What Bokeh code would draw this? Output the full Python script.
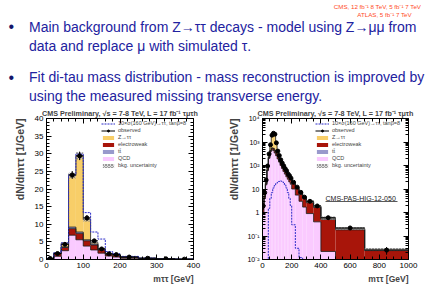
import numpy as np
from bokeh.plotting import figure
from bokeh.models import (Label, Legend, LegendItem, FixedTicker, BoxAnnotation,
                          LinearAxis, LogAxis, SingleIntervalTicker, Title)
from bokeh.layouts import column, row
from bokeh.embed import file_html
from bokeh.resources import INLINE

FONT = "Liberation Sans"

# ---------------- slide text ----------------
bullet_1 = ["Main background from Z→ττ decays - model using Z→μμ from",
            "data and replace μ with simulated τ."]
bullet_2 = ["Fit di-tau mass distribution - mass reconstruction is improved by",
            "using the measured missing transverse energy."]
lumi_note = ["CMS, 12 fb⁻¹ 8 TeV, 5 fb⁻¹ 7 TeV", "ATLAS, 5 fb⁻¹ 7 TeV"]
plot_title = "CMS Preliminary, √s = 7-8 TeV, L = 17 fb⁻¹ τμτh"
y_title = "dN/dmττ [1/GeV]"
x_title = "mττ [GeV]"
pas_note = "CMS-PAS-HIG-12-050"
legend_labels = ["10×σ(160 GeV)→ττ, tanβ=8", "observed", "Z→ττ", "electroweak",
                 "tt̄", "QCD", "bkg. uncertainty"]

# ---------------- left plot (linear) ----------------
edges_l = [0, 20, 40, 60, 80, 100, 120, 140, 160, 180, 200, 250, 300, 350, 400]
qcd_l = [0.15, 0.9, 2.5, 6.9, 5.6, 3.8, 2.7, 1.8, 1.0, 0.7, 0.35, 0.15, 0.06, 0.03]
ew_l = [0.1, 0.7, 0.9, 1.85, 1.8, 1.5, 1.4, 0.9, 0.5, 0.45, 0.3, 0.15, 0.08, 0.04]
tt_l = [0.02, 0.1, 0.2, 0.45, 0.4, 0.3, 0.3, 0.2, 0.15, 0.15, 0.1, 0.05, 0.02, 0.01]
ztt_l = [0.05, 0.2, 1.0, 14.6, 21.6, 5.7, 0.4, 0.2, 0.1, 0.05, 0.03, 0.02, 0.01, 0.01]
obs_l = [0.3, 1.7, 4.3, 24.0, 29.4, 11.8, 5.3, 3.0, 1.6, 1.4, 0.7, 0.35, 0.2, 0.1]
obs_err_l = [0.15, 0.3, 0.5, 1.1, 1.2, 0.8, 0.5, 0.4, 0.3, 0.25, 0.1, 0.08, 0.06, 0.04]
sig_l = [0, 0, 0.1, 0.2, 0.5, 2.0, 3.0, 2.7, 0.5, 0.3, 0.1, 0.02, 0, 0]
unc_l = [0.05, 0.15, 0.3, 0.8, 1.0, 0.5, 0.3, 0.2, 0.12, 0.1, 0.06, 0.03, 0.02, 0.01]

# ---------------- right plot (log) ----------------
edges_r = [0, 10, 20, 30, 40, 50, 60, 70, 80, 90, 100, 110, 120, 130, 140, 150, 160,
           170, 180, 190, 200, 225, 250, 275, 300, 350, 400, 500, 700, 1000]
qcd_r = [1.0, 4, 15, 60, 200, 380, 470, 430, 340, 260, 190, 140, 100, 75, 56, 43, 33,
         26, 20, 16, 10, 5.5, 3.0, 1.7, 0.9, 0.4, 0.022, 0.003, 0.001]
ew_r = [0.58, 0.9, 1.7, 4.2, 18, 46, 84, 102, 102, 93, 74, 55, 36, 29.5, 24, 20.5, 17,
        13, 11, 9, 6.4, 4.9, 3.0, 2.25, 1.7, 1.25, 0.49, 0.18, 0.023]
tt_r = [0.02, 0.1, 0.3, 0.8, 2, 4, 6, 8, 8, 7, 6, 5, 4, 3.5, 3, 2.5, 2, 1.6, 1.3, 1.1,
        0.8, 0.5, 0.35, 0.25, 0.15, 0.1, 0.03, 0.01, 0.001]
ztt_r = [0.3, 2, 8, 25, 100, 320, 1340, 1760, 1750, 540, 150, 60, 30, 22, 12, 9, 6,
         4.5, 3.5, 2.8, 1.8, 1.1, 0.65, 0.4, 0.25, 0.15, 0.04, 0.015, 0.002]
obs_r = [1.9, 7, 24, 95, 310, 760, 1950, 2350, 2150, 920, 410, 265, 175, 128, 97, 74,
         60, 44, 37, 29, 19.5, 12, 7.2, 4.5, 3.0, 1.9, 0.6, 0.22, 0.025]
obs_err_r = [0.6, 1.2, 2.5, 5, 9, 14, 22, 24, 23, 15, 10, 8, 6.5, 5.5, 5, 4.3, 3.9,
             3.3, 3, 2.7, 1.4, 1.1, 0.85, 0.7, 0.4, 0.3, 0.12, 0.04, 0.009]
sig_r = [0.001, 0.001, 0.001, 0.01, 1.5, 4, 7, 11, 14, 17, 19, 21, 22, 21, 19, 15, 11,
         7, 4, 2, 0.3, 0.03, 0.012, 0.008, 0.006, 0.005, 0.005, 0.001, 0.001]
unc_r = [0.15, 0.5, 1.5, 6, 20, 45, 110, 130, 125, 55, 26, 16, 11, 8, 6, 5, 4, 3, 2.4,
         2, 1.4, 0.9, 0.6, 0.4, 0.3, 0.2, 0.1, 0.03, 0.004]

log_ticks = [0.01, 0.1, 1, 10, 100, 1000, 10000]
log_tick_labels = ["10⁻²", "10⁻¹", "1", "10", "10²", "10³", "10⁴"]

C_ZTT = "#F8CE68"
C_EW = "#A8150A"
C_TT = "#9999CC"
C_QCD = "#FACAFF"
C_SIG = "#2B2BC8"

FIG_W, FIG_H = 218, 182
B_TOP, B_BOT = 10, 29
FRAME_H = FIG_H - B_TOP - B_BOT


def hide_labels(ax):
    ax.major_label_text_color = None
    ax.major_label_text_font_size = "1px"
    ax.major_label_standoff = 0


def tick_style(ax):
    ax.major_tick_in = 5
    ax.major_tick_out = 0
    ax.minor_tick_in = 3
    ax.minor_tick_out = 0
    ax.axis_line_color = "black"
    ax.major_tick_line_color = "black"
    ax.minor_tick_line_color = "black"
    ax.major_label_text_font = FONT
    ax.major_label_text_font_size = "8px"
    ax.major_label_text_color = "black"
    ax.major_label_standoff = 3


def make_hist(edges, qcd, ew, tt, ztt, obs, obs_err, sig, unc, log, bl, br,
              ylab_standoff, leg_x, sig_stacked):
    x_max = edges[-1]
    fw = FIG_W - bl - br
    if log:
        y0, y1 = 0.01, 10000
        p = figure(width=FIG_W, height=FIG_H, x_range=(0, x_max), y_range=(y0, y1),
                   y_axis_type="log", output_backend="svg", toolbar_location=None,
                   title=None, min_border_left=bl, min_border_right=br,
                   min_border_top=B_TOP, min_border_bottom=B_BOT)

        def py(v):
            return 10 ** (np.log10(y0) + v * (np.log10(y1) - np.log10(y0)) / FRAME_H)
    else:
        y0, y1 = 0, 40
        p = figure(width=FIG_W, height=FIG_H, x_range=(0, x_max), y_range=(y0, y1),
                   output_backend="svg", toolbar_location=None, title=None,
                   min_border_left=bl, min_border_right=br,
                   min_border_top=B_TOP, min_border_bottom=B_BOT)

        def py(v):
            return y0 + v * (y1 - y0) / FRAME_H

    def px(v):
        return v * x_max / fw

    p.grid.visible = False
    p.outline_line_color = "black"
    p.background_fill_color = "white"

    e = np.array(edges, dtype=float)
    left, right = e[:-1], e[1:]
    centers = 0.5 * (left + right)
    floor = 1e-4 if log else 0.0
    c1 = np.array(qcd, dtype=float)
    c2 = c1 + np.array(ew)
    c3 = c2 + np.array(tt)
    c4 = c3 + np.array(ztt)
    base = np.full_like(c1, floor)
    r_qcd = p.quad(left=left, right=right, bottom=base, top=c1, fill_color=C_QCD,
                   line_color=None)
    r_ew = p.quad(left=left, right=right, bottom=c1, top=c2, fill_color=C_EW,
                  line_color=None)
    r_tt = p.quad(left=left, right=right, bottom=c2, top=c3, fill_color=C_TT,
                  line_color=None)
    r_ztt = p.quad(left=left, right=right, bottom=c3, top=c4, fill_color=C_ZTT,
                   line_color=None)
    for c in (c1, c2, c3, c4):
        p.step(x=list(e), y=list(c) + [c[-1]], mode="after", line_color="#1a1a1a",
               line_width=0.8)
    u = np.array(unc, dtype=float)
    r_unc = p.quad(left=left, right=right, bottom=c4 - u, top=c4 + u,
                   fill_color="#bdbdbd", fill_alpha=0.5, hatch_pattern="x",
                   hatch_color="#555555", hatch_scale=3, hatch_weight=0.5,
                   line_color=None)

    s = np.array(sig, dtype=float)
    sig_y = (c4 + s) if sig_stacked else s
    r_sig = p.step(x=list(e), y=list(sig_y) + [sig_y[-1]], mode="after",
                   line_color=C_SIG, line_dash="2 1", line_width=1)

    o = np.array(obs, dtype=float)
    oe = np.array(obs_err, dtype=float)
    r_oh = p.segment(x0=left, x1=right, y0=o, y1=o, line_color="black", line_width=1)
    p.segment(x0=centers, x1=centers, y0=o - oe, y1=o + oe, line_color="black",
              line_width=1)
    r_od = p.scatter(x=centers, y=o, size=4, marker="circle", fill_color="black",
                     line_color="black")

    # axes
    if log:
        xt = SingleIntervalTicker(interval=200, num_minor_ticks=4)
        minors = [m * 10.0 ** k for k in range(-2, 4) for m in range(2, 10)]
        yt = FixedTicker(ticks=log_ticks, minor_ticks=minors)
    else:
        xt = SingleIntervalTicker(interval=100, num_minor_ticks=5)
        yt = SingleIntervalTicker(interval=5, num_minor_ticks=5)
    p.xaxis.ticker = xt
    p.yaxis.ticker = yt
    tick_style(p.xaxis[0])
    tick_style(p.yaxis[0])
    if log:
        p.yaxis[0].major_label_overrides = dict(zip(log_ticks, log_tick_labels))
        p.yaxis[0].major_label_text_font_size = "7px"
    top_ax = LinearAxis(ticker=xt)
    right_ax = LogAxis(ticker=yt) if log else LinearAxis(ticker=yt)
    for ax in (top_ax, right_ax):
        tick_style(ax)
        hide_labels(ax)
    p.add_layout(top_ax, "above")
    p.add_layout(right_ax, "right")

    # titles around the frame
    p.add_layout(Title(text=plot_title, align="center", text_font=FONT,
                       text_font_style="bold", text_font_size="7.2px", standoff=1),
                 "above")
    p.add_layout(Title(text=y_title, align="right", text_font=FONT,
                       text_font_style="bold", text_font_size="10.5px",
                       standoff=ylab_standoff), "left")
    p.add_layout(Title(text=x_title, align="right", text_font=FONT,
                       text_font_style="bold", text_font_size="8.5px", standoff=3),
                 "below")

    legend = Legend(items=[
        LegendItem(label=legend_labels[0], renderers=[r_sig]),
        LegendItem(label=legend_labels[1], renderers=[r_oh, r_od]),
        LegendItem(label=legend_labels[2], renderers=[r_ztt]),
        LegendItem(label=legend_labels[3], renderers=[r_ew]),
        LegendItem(label=legend_labels[4], renderers=[r_tt]),
        LegendItem(label=legend_labels[5], renderers=[r_qcd]),
        LegendItem(label=legend_labels[6], renderers=[r_unc]),
    ], location=(leg_x, 91), orientation="vertical")
    legend.background_fill_alpha = 0
    legend.border_line_alpha = 0
    legend.label_text_font = FONT
    legend.label_text_font_size = "5.5px"
    legend.glyph_width = 14
    legend.glyph_height = 5
    legend.label_height = 6
    legend.label_standoff = 3
    legend.spacing = 1
    legend.padding = 0
    legend.margin = 0
    p.add_layout(legend)
    return p, px, py


p_left, pxl, pyl = make_hist(edges_l, qcd_l, ew_l, tt_l, ztt_l, obs_l, obs_err_l,
                             sig_l, unc_l, log=False, bl=46, br=25, ylab_standoff=12,
                             leg_x=55, sig_stacked=True)
p_right, pxr, pyr = make_hist(edges_r, qcd_r, ew_r, tt_r, ztt_r, obs_r, obs_err_r,
                              sig_r, unc_r, log=True, bl=44, br=28, ylab_standoff=10,
                              leg_x=53, sig_stacked=False)
p_right.add_layout(Label(x=pxr(63), y=pyr(62), text=pas_note, text_align="left",
                         text_baseline="alphabetic", text_font=FONT,
                         text_font_size="7px", text_color="#222222"))
p_right.add_layout(BoxAnnotation(left=pxr(63), right=pxr(135), bottom=pyr(58.2),
                                 top=pyr(59.1), fill_color="#222222", fill_alpha=1,
                                 line_color=None))

# ---------------- text panel ----------------
TW, TH = 436, 106
SHIFT = 4.5   # compensation for where the renderer puts the baseline
pt = figure(width=TW, height=TH, x_range=(0, TW), y_range=(0, TH),
            output_backend="svg", toolbar_location=None, title=None,
            x_axis_location=None, y_axis_location=None, min_border=0)
pt.grid.visible = False
pt.outline_line_color = None
TXT = "#2222A0"
for yb in (30.7, 81):
    pt.add_layout(Label(x=10.8, y=TH - yb + SHIFT, text="•", text_align="center",
                        text_baseline="alphabetic", text_font=FONT,
                        text_font_size="16px", text_color="#15156A"))
for txt, yb in zip(bullet_1 + bullet_2, (30.7, 50.3, 81, 100)):
    pt.add_layout(Label(x=28.5, y=TH - yb + SHIFT, text=txt, text_align="left",
                        text_baseline="alphabetic", text_font=FONT,
                        text_font_size="14px", text_color=TXT))
for txt, xc, yb in zip(lumi_note, (377, 384), (8, 15.5)):
    pt.add_layout(Label(x=xc, y=TH - yb + 2, text=txt, text_align="center",
                        text_baseline="alphabetic", text_font=FONT,
                        text_font_size="6.2px", text_color="#FF4A26"))

layout = column(pt, row(p_left, p_right, spacing=0), spacing=0)
open("out.html", "w").write(file_html(layout, INLINE))
